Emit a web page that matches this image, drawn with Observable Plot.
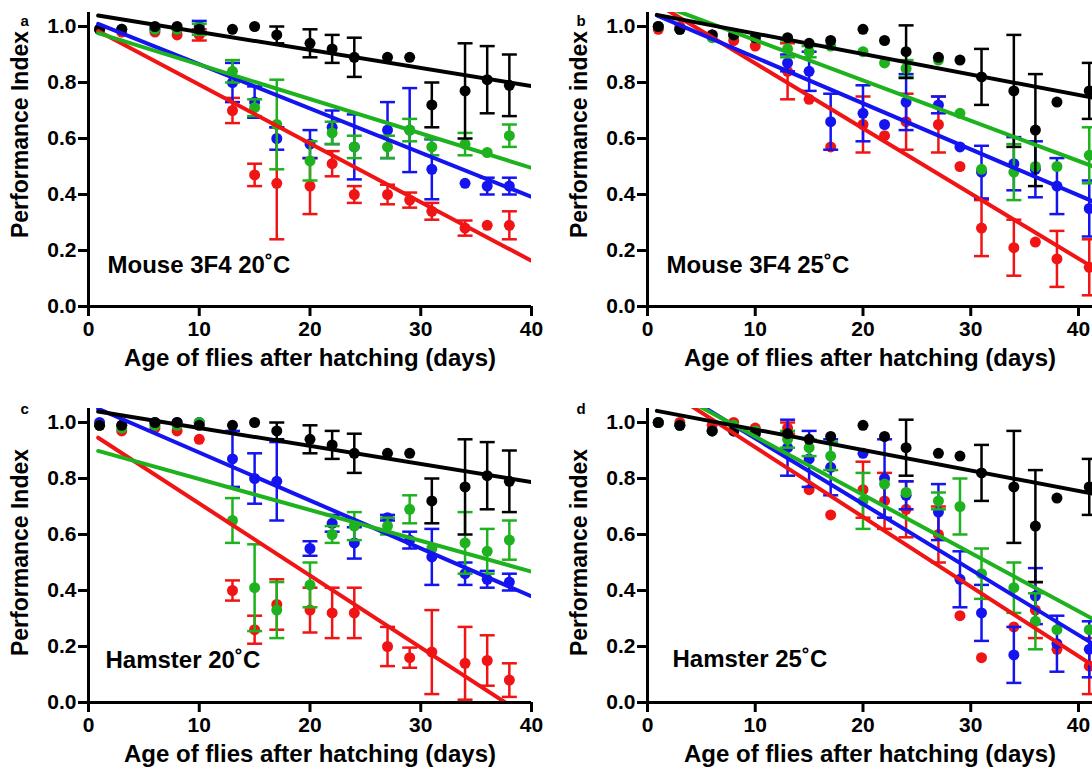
<!DOCTYPE html>
<html><head><meta charset="utf-8">
<script src="https://cdn.jsdelivr.net/npm/d3@7"></script>
<script src="https://cdn.jsdelivr.net/npm/@observablehq/plot@0.6"></script>
<style>
body{margin:0;background:#fff;}
#fig{position:relative;width:1092px;height:774px;overflow:hidden;background:#fff;}
.panel{position:absolute;}
.panel svg{overflow:visible;}
</style></head><body><div id="fig"></div>
<script>
// ---------- data ----------
const days20 = [1,3,6,8,10,13,15,17,20,22,24,27,29,31,34,36,38];
const days25 = [1,3,6,8,10,13,15,17,20,22,24,27,29,31,34,36,38,41];
const xTicks = [0,10,20,30,40];
const yTicks = [0,0.2,0.4,0.6,0.8,1.0];
const seriesKeys = ["black","green","blue","red"];
const seriesColors = ["#000000","#1fb21f","#1414f0","#f01414"];
const panelLetters = ["a","b","c","d"];
const panelNotes = ["Mouse 3F4 20˚C","Mouse 3F4 25˚C","Hamster 20˚C","Hamster 25˚C"];
const yTitles = ["Performance Index","Performance index","Performance Index","Performance index"];
const xTitle = "Age of flies after hatching (days)";

// panel a : Mouse 3F4 20˚C
const aBlack    = [0.99,0.99,1.00,1.00,0.99,0.99,1.00,0.97,0.94,0.92,0.89,0.89,0.89,0.72,0.77,0.81,0.79];
const aBlackErr = [0,0,0,0,0,0,0,0.03,0.05,0.05,0.07,0,0,0.08,0.17,0.12,0.11];
const aGreen    = [0.99,0.99,0.99,0.99,0.99,0.84,0.71,0.65,0.52,0.62,0.57,0.57,0.63,0.57,0.58,0.55,0.61];
const aGreenErr = [0,0,0,0,0.02,0.04,0.03,0.16,0.07,0.04,0.04,0.04,0.04,0.03,0.04,0,0.04];
const aBlue     = [0.99,0.99,0.99,0.99,1.00,0.80,0.73,0.60,0.58,0.64,0.57,0.63,0.63,0.49,0.44,0.43,0.43];
const aBlueErr  = [0,0,0,0,0.02,0.07,0.056,0.04,0.05,0.06,0.116,0.1,0.15,0.107,0,0.03,0.03];
const aRed      = [0.99,0.98,0.98,0.97,0.97,0.70,0.47,0.44,0.43,0.51,0.40,0.40,0.38,0.34,0.28,0.29,0.29];
const aRedErr   = [0,0,0,0,0.02,0.045,0.04,0.2,0.1,0.045,0.03,0.035,0.027,0.03,0.027,0,0.05];
const aFitIntercept = [1.045,0.987,1.023,1.002];
const aFitSlope     = [-0.00644,-0.0123,-0.01579,-0.02097];

// panel b : Mouse 3F4 25˚C
const bBlack    = [1.00,0.99,0.97,0.97,0.96,0.96,0.94,0.95,0.99,0.95,0.91,0.89,0.88,0.82,0.77,0.63,0.73,0.77];
const bBlackErr = [0,0,0,0,0,0,0,0,0,0,0.094,0,0,0.1,0.2,0.2,0,0.1];
const bGreen    = [1.00,0.99,0.96,0.97,0.96,0.92,0.91,0.93,0.91,0.87,0.85,0.88,0.69,0.49,0.48,0.50,0.50,0.54];
const bGreenErr = [0,0,0,0,0,0.03,0.02,0,0,0,0.03,0,0,0,0.1,0,0,0.1];
const bBlue     = [1.00,0.99,0.97,0.97,0.96,0.87,0.84,0.66,0.69,0.65,0.73,0.72,0.57,0.48,0.51,0.49,0.43,0.35];
const bBlueErr  = [0,0,0,0,0,0.03,0.07,0.1,0.1,0,0.1,0.03,0,0.094,0.095,0.1,0.1,0.1];
const bRed      = [0.99,1.00,0.97,0.95,0.93,0.84,0.74,0.57,0.65,0.61,0.66,0.65,0.50,0.28,0.21,0.23,0.17,0.14];
const bRedErr   = [0,0,0,0,0,0.1,0,0,0.1,0,0.1,0.1,0,0.1,0.1,0,0.1,0.1];
const bFitIntercept = [1.048,1.095,1.054,1.101];
const bFitSlope     = [-0.00731,-0.01438,-0.01642,-0.02325];

// panel c : Hamster 20˚C
const cBlack    = [0.99,0.99,1.00,1.00,0.99,0.99,1.00,0.97,0.94,0.92,0.89,0.89,0.89,0.72,0.77,0.81,0.79];
const cBlackErr = [0,0,0,0,0,0,0,0.03,0.05,0.05,0.07,0,0,0.08,0.17,0.12,0.11];
const cGreen    = [0.99,0.98,0.99,0.99,1.00,0.65,0.41,0.33,0.42,0.60,0.63,0.63,0.69,0.55,0.57,0.54,0.58];
const cGreenErr = [0,0,0,0,0,0.08,0.155,0.1,0.08,0.03,0.05,0.03,0.05,0,0.11,0.08,0.07];
const cBlue     = [1.00,0.99,1.00,1.00,1.00,0.87,0.80,0.79,0.55,0.64,0.57,0.66,0.58,0.52,0.46,0.44,0.43];
const cBlueErr  = [0,0,0,0,0,0.1,0.09,0.14,0.026,0.03,0.056,0.01,0.03,0.1,0.04,0.03,0.03];
const cRed      = [0.99,0.97,0.98,0.97,0.94,0.40,0.26,0.35,0.33,0.32,0.32,0.20,0.16,0.18,0.14,0.15,0.08];
const cRedErr   = [0,0,0,0,0,0.036,0.05,0.09,0.08,0.09,0.09,0.07,0.036,0.15,0.13,0.09,0.06];
const cFitIntercept = [1.045,0.908,1.064,0.968];
const cFitSlope     = [-0.00644,-0.01102,-0.01712,-0.02572];

// panel d : Hamster 25˚C
const dBlack    = [1.00,0.99,0.97,0.97,0.96,0.96,0.94,0.95,0.99,0.95,0.91,0.89,0.88,0.82,0.77,0.63,0.73,0.77];
const dBlackErr = [0,0,0,0,0,0,0,0,0,0,0.1,0,0,0.1,0.2,0.2,0,0.1];
const dGreen    = [1.00,0.99,0.97,0.99,0.97,0.94,0.91,0.88,0.72,0.78,0.75,0.72,0.70,0.46,0.41,0.29,0.26,0.26];
const dGreenErr = [0,0,0,0,0,0.03,0.03,0.05,0.1,0,0,0.03,0.1,0.09,0.09,0.1,0,0];
const dBlue     = [1.00,0.99,0.97,0.97,0.96,0.91,0.87,0.84,0.89,0.80,0.74,0.68,0.44,0.32,0.17,0.38,0.21,0.19];
const dBlueErr  = [0,0,0,0,0,0.1,0.1,0.1,0,0.14,0.05,0.1,0.1,0.1,0.1,0.1,0.1,0.1];
const dRed      = [1.00,1.00,0.99,1.00,0.98,0.98,0.76,0.67,0.76,0.72,0.69,0.60,0.31,0.16,0.27,0.33,0.19,0.13];
const dRedErr   = [0,0,0,0,0,0.02,0,0,0.1,0.1,0.1,0.1,0,0,0,0.1,0,0.1];
const dFitIntercept = [1.048,1.158,1.177,1.16];
const dFitSlope     = [-0.00731,-0.0208,-0.0234,-0.02486];

// ---------- drawing ----------
const FONT = '"Liberation Sans", Arial, Helvetica, sans-serif';
const capSymbol = {draw(context) { context.moveTo(-7.5, 0); context.lineTo(7.5, 0); }};
const drawOrder = [3, 2, 1, 0]; // red, blue, green, black (black on top)

function buildPanel(p) {
  const marks = [];
  for (const si of drawOrder) {
    const color = seriesColors[si];
    const vals = p.values[si], errs = p.errors[si];
    const rows = p.days.map((d, i) => ({day: d, v: vals[i], e: errs[i]}));
    const withErr = rows.filter(r => r.e > 0);
    marks.push(Plot.ruleX(withErr, {x: "day", y1: r => r.v - r.e, y2: r => r.v + r.e, stroke: color, strokeWidth: 2.5}));
    marks.push(Plot.dot(withErr, {x: "day", y: r => r.v + r.e, symbol: capSymbol, stroke: color, fill: "none", strokeWidth: 2.5}));
    marks.push(Plot.dot(withErr, {x: "day", y: r => r.v - r.e, symbol: capSymbol, stroke: color, fill: "none", strokeWidth: 2.5}));
    marks.push(Plot.dot(rows, {x: "day", y: "v", r: 5.5, fill: color, stroke: "none"}));
  }
  for (const si of drawOrder) {
    const b = p.intercept[si], m = p.slope[si];
    const seg = [p.fitStart, p.fitEnd].map(x => ({x, y: b + m * x}));
    marks.push(Plot.line(seg, {x: "x", y: "y", stroke: seriesColors[si], strokeWidth: 4, clip: true}));
  }
  marks.push(Plot.ruleX([0], {strokeWidth: 3}));
  marks.push(Plot.ruleY([0], {strokeWidth: 3}));
  marks.push(Plot.axisX(xTicks, {tickSize: 10, tickPadding: 5, strokeWidth: 3, fontSize: 21, fontWeight: "bold", label: null, tickFormat: d => String(d)}));
  marks.push(Plot.axisY(yTicks, {tickSize: 10, tickPadding: 2, strokeWidth: 3, fontSize: 21, fontWeight: "bold", label: null, tickFormat: d3.format(".1f")}));
  marks.push(Plot.text([p.note], {text: d => d, frameAnchor: "bottom-left", textAnchor: "start", dx: p.noteDx, dy: p.noteDy, fontSize: 24, fontWeight: "bold"}));
  marks.push(Plot.text([p.yTitle], {text: d => d, frameAnchor: "left", textAnchor: "middle", rotate: -90, dx: -68, dy: p.yTitleDy, fontSize: 23, fontWeight: "bold"}));
  marks.push(Plot.text([xTitle], {text: d => d, frameAnchor: "bottom", textAnchor: "middle", dy: 59, fontSize: 24, fontWeight: "bold"}));
  marks.push(Plot.text([p.letter], {text: d => d, frameAnchor: "top-left", textAnchor: "start", dx: p.letterDx, dy: p.letterDy, fontSize: 15, fontWeight: "bold"}));

  const svg = Plot.plot({
    width: p.width, height: 390,
    marginLeft: p.marginLeft, marginRight: p.marginRight, marginTop: 12, marginBottom: 84,
    x: {domain: [0, p.xMax]},
    y: {domain: [0, 1.05]},
    style: {fontFamily: FONT, fontWeight: "bold", fontSize: "20px", color: "#000", background: "transparent"},
    marks
  });
  const div = document.createElement("div");
  div.className = "panel";
  div.style.left = p.left + "px";
  div.style.top = p.top + "px";
  div.appendChild(svg);
  document.getElementById("fig").appendChild(div);
}

const common20 = {days: days20, xMax: 40, width: 546, marginLeft: 88, marginRight: 15, left: 0, fitStart: 0.87, fitEnd: 42, letterDx: -68};
const common25 = {days: days25, xMax: 41.3, width: 532, marginLeft: 87, marginRight: 0, left: 560, fitStart: 0.87, fitEnd: 42, letterDx: -71};

buildPanel({...common20, top: 0, letter: panelLetters[0], note: panelNotes[0], yTitle: yTitles[0],
  values: [aBlack, aGreen, aBlue, aRed], errors: [aBlackErr, aGreenErr, aBlueErr, aRedErr],
  intercept: aFitIntercept, slope: aFitSlope, noteDx: 19, noteDy: -34, yTitleDy: -25, letterDy: 3});
buildPanel({...common25, top: 0, letter: panelLetters[1], note: panelNotes[1], yTitle: yTitles[1],
  values: [bBlack, bGreen, bBlue, bRed], errors: [bBlackErr, bGreenErr, bBlueErr, bRedErr],
  intercept: bFitIntercept, slope: bFitSlope, noteDx: 19, noteDy: -34, yTitleDy: -25, letterDy: 3});
buildPanel({...common20, top: 396, letter: panelLetters[2], note: panelNotes[2], yTitle: yTitles[2],
  values: [cBlack, cGreen, cBlue, cRed], errors: [cBlackErr, cGreenErr, cBlueErr, cRedErr],
  intercept: cFitIntercept, slope: cFitSlope, noteDx: 17, noteDy: -35, yTitleDy: -3, letterDy: -5});
buildPanel({...common25, top: 396, letter: panelLetters[3], note: panelNotes[3], yTitle: yTitles[3],
  values: [dBlack, dGreen, dBlue, dRed], errors: [dBlackErr, dGreenErr, dBlueErr, dRedErr],
  intercept: dFitIntercept, slope: dFitSlope, noteDx: 25, noteDy: -36, yTitleDy: -3, letterDy: -5});
</script>
</body></html>
